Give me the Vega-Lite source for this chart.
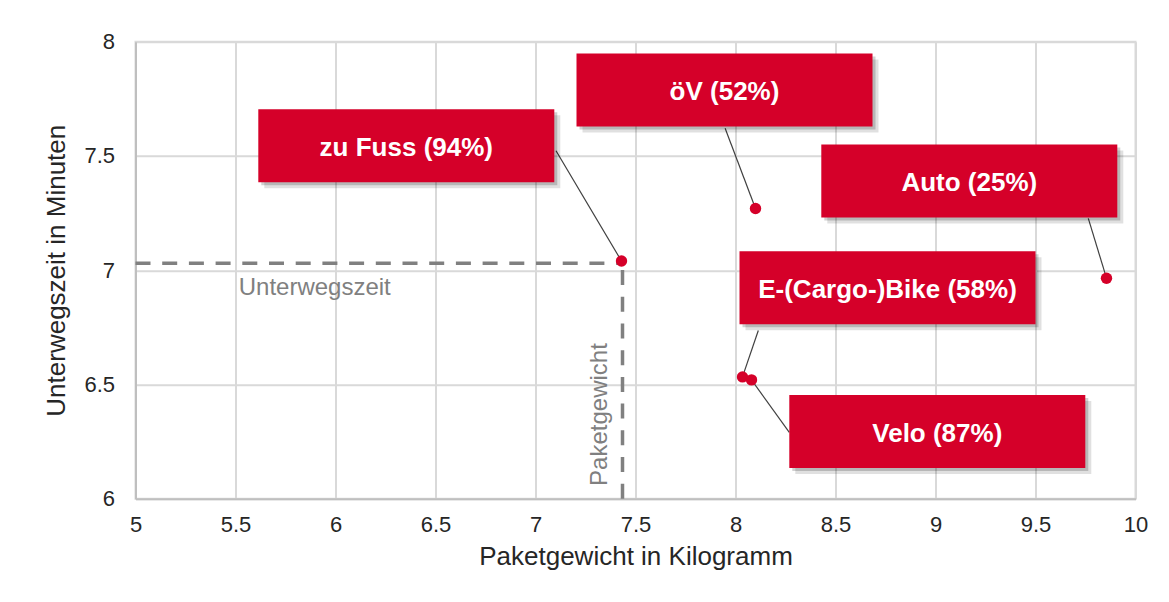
{
  "$schema": "https://vega.github.io/schema/vega-lite/v6.json",
  "width": 1000,
  "height": 457,
  "autosize": {"type": "none"},
  "padding": {"left": 135.5, "top": 41.7, "right": 33.5, "bottom": 103.3},
  "background": "#ffffff",
  "config": {
    "view": {"stroke": "#d9d9d9", "strokeWidth": 2},
    "font": "Liberation Sans",
    "axis": {
      "gridColor": "#d9d9d9",
      "gridWidth": 2,
      "domainColor": "#bfbfbf",
      "domainWidth": 2,
      "ticks": false,
      "labelFlush": false,
      "labelFont": "Liberation Sans",
      "labelFontSize": 22,
      "labelColor": "#262626",
      "titleFont": "Liberation Sans",
      "titleFontSize": 26,
      "titleFontWeight": "normal",
      "titleColor": "#262626"
    }
  },
  "datasets": {
    "modes": [
      {"label": "zu Fuss (94%)", "gewicht": 7.43, "zeit": 7.04, "boxX": 6.354, "boxY": 7.545, "lineX": 7.1025, "lineY": 7.523},
      {"label": "öV (52%)", "gewicht": 8.10, "zeit": 7.27, "boxX": 7.945, "boxY": 7.789, "lineX": 7.948, "lineY": 7.621},
      {"label": "Auto (25%)", "gewicht": 9.855, "zeit": 6.965, "boxX": 9.169, "boxY": 7.39, "lineX": 9.764, "lineY": 7.227},
      {"label": "E-(Cargo-)Bike (58%)", "gewicht": 8.035, "zeit": 6.533, "boxX": 8.76, "boxY": 6.923, "lineX": 8.114, "lineY": 6.736},
      {"label": "Velo (87%)", "gewicht": 8.08, "zeit": 6.52, "boxX": 9.009, "boxY": 6.294, "lineX": 8.269, "lineY": 6.29}
    ],
    "guides": [
      {"name": "Unterwegszeit", "x": 5, "x2": 7.435, "y": 7.03, "y2": 7.03, "tx": 5.516, "ty": 6.924},
      {"name": "Paketgewicht", "x": 7.435, "x2": 7.435, "y": 6, "y2": 7.03, "tx": 7.3225, "ty": 6.056}
    ]
  },
  "layer": [
    {
      "data": {"name": "guides"},
      "mark": {"type": "rule", "color": "#808080", "strokeWidth": 3.5, "strokeDash": [15, 11.7]},
      "encoding": {
        "x": {"field": "x", "type": "quantitative", "scale": {"domain": [5, 10], "nice": false, "zero": false},
          "axis": {"values": [5, 5.5, 6, 6.5, 7, 7.5, 8, 8.5, 9, 9.5, 10], "format": "~g", "labelPadding": 16, "title": "Paketgewicht in Kilogramm", "titlePadding": 8}},
        "x2": {"field": "x2"},
        "y": {"field": "y", "type": "quantitative", "scale": {"domain": [6, 8], "nice": false, "zero": false},
          "axis": {"values": [6, 6.5, 7, 7.5, 8], "format": "~g", "labelPadding": 21, "title": "Unterwegszeit in Minuten", "titlePadding": 14}},
        "y2": {"field": "y2"}
      }
    },
    {
      "data": {"name": "guides"},
      "transform": [{"filter": "datum.name === 'Unterwegszeit'"}],
      "mark": {"type": "text", "align": "left", "baseline": "middle", "fontSize": 24, "color": "#808080"},
      "encoding": {
        "x": {"field": "tx", "type": "quantitative"},
        "y": {"field": "ty", "type": "quantitative"},
        "text": {"field": "name"}
      }
    },
    {
      "data": {"name": "guides"},
      "transform": [{"filter": "datum.name === 'Paketgewicht'"}],
      "mark": {"type": "text", "align": "left", "baseline": "middle", "fontSize": 24, "color": "#808080", "angle": 270},
      "encoding": {
        "x": {"field": "tx", "type": "quantitative"},
        "y": {"field": "ty", "type": "quantitative"},
        "text": {"field": "name"}
      }
    },
    {
      "data": {"name": "modes"},
      "mark": {"type": "rule", "color": "#404040", "strokeWidth": 1.2},
      "encoding": {
        "x": {"field": "lineX", "type": "quantitative"},
        "y": {"field": "lineY", "type": "quantitative"},
        "x2": {"field": "gewicht"},
        "y2": {"field": "zeit"}
      }
    },
    {
      "data": {"name": "modes"},
      "mark": {"type": "point", "filled": true, "shape": "M-1,-0.2466H1V0.2466H-1Z", "size": 87616, "color": "#000000", "opacity": 0.12, "strokeWidth": 0, "xOffset": 6, "yOffset": 6},
      "encoding": {
        "x": {"field": "boxX", "type": "quantitative"},
        "y": {"field": "boxY", "type": "quantitative"}
      }
    },
    {
      "data": {"name": "modes"},
      "mark": {"type": "point", "filled": true, "shape": "M-1,-0.2466H1V0.2466H-1Z", "size": 87616, "color": "#000000", "opacity": 0.18, "strokeWidth": 0, "xOffset": 3, "yOffset": 3},
      "encoding": {
        "x": {"field": "boxX", "type": "quantitative"},
        "y": {"field": "boxY", "type": "quantitative"}
      }
    },
    {
      "data": {"name": "modes"},
      "mark": {"type": "point", "filled": true, "shape": "M-1,-0.2466H1V0.2466H-1Z", "size": 87616, "color": "#d50029", "opacity": 1, "strokeWidth": 0},
      "encoding": {
        "x": {"field": "boxX", "type": "quantitative"},
        "y": {"field": "boxY", "type": "quantitative"}
      }
    },
    {
      "data": {"name": "modes"},
      "mark": {"type": "text", "align": "center", "baseline": "middle", "fontSize": 26, "fontWeight": "bold", "color": "#ffffff", "dy": 2},
      "encoding": {
        "x": {"field": "boxX", "type": "quantitative"},
        "y": {"field": "boxY", "type": "quantitative"},
        "text": {"field": "label"}
      }
    },
    {
      "data": {"name": "modes"},
      "mark": {"type": "point", "filled": true, "shape": "circle", "size": 130, "color": "#d50029", "opacity": 1, "strokeWidth": 0},
      "encoding": {
        "x": {"field": "gewicht", "type": "quantitative"},
        "y": {"field": "zeit", "type": "quantitative"}
      }
    }
  ]
}
